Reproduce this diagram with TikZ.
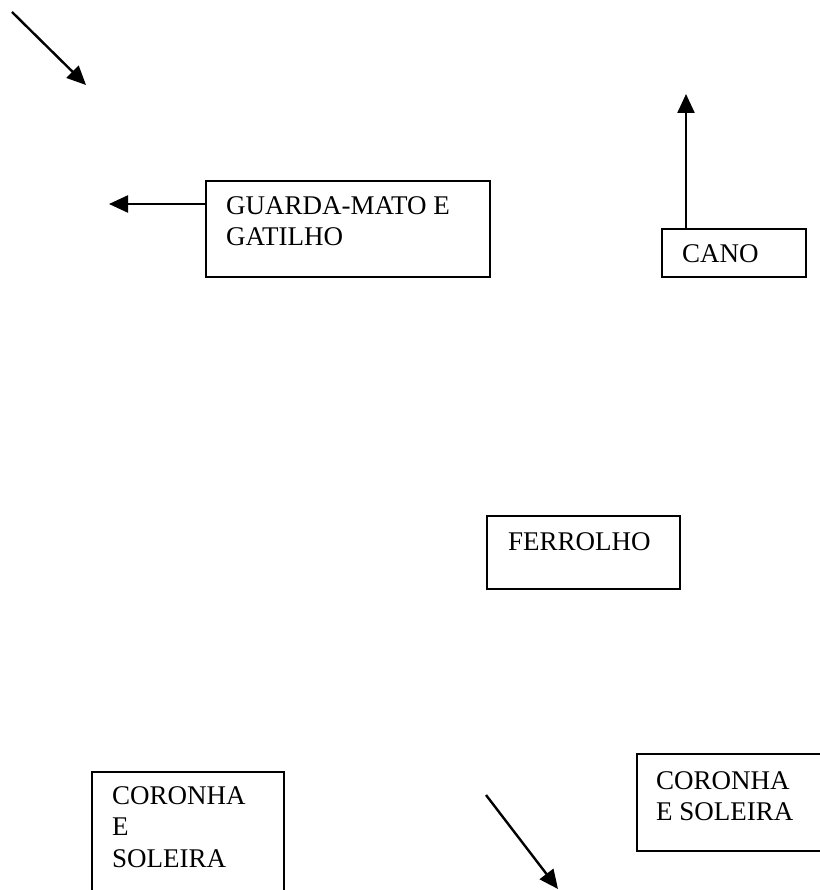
\documentclass[tikz,border=0pt]{standalone}
\usepackage{fontspec}
\setmainfont{Liberation Serif}
\usetikzlibrary{arrows.meta}
\begin{document}
\begin{tikzpicture}[x=1pt,y=-1pt,
  box/.style={draw,line width=2pt,anchor=north west,inner sep=0,minimum width=#1},
  lbl/.style={anchor=north west,inner sep=0,align=left,font=\fontsize{27}{31.5}\selectfont},
  arr/.style={line width=2.4pt,-{Triangle[length=19pt,width=17pt]}}]
\useasboundingbox (0,0) rectangle (819,890);
% boxes
\node[box=284pt,minimum height=96pt] (guard) at (205,180) {};
\node[box=144pt,minimum height=48pt] (cano) at (661,228) {};
\node[box=193pt,minimum height=73pt] (ferr) at (486,515) {};
\node[box=192pt,minimum height=140pt] (cor1) at (91,771) {};
\node[box=200pt,minimum height=97pt] (cor2) at (636,753) {};
% labels
\node[lbl] (tguard) at (226,196) {GUARDA-MATO E\\GATILHO};
\node[lbl] (tcano) at (682,244) {CANO};
\node[lbl] (tferr) at (508,532) {FERROLHO};
\node[lbl] (tcor1) at (112,786) {CORONHA\\E\\SOLEIRA};
\node[lbl] (tcor2) at (656,771) {CORONHA\\E SOLEIRA};
% arrows
\coordinate (a1s) at (12,12);
\coordinate (a1e) at (86,85);
\draw[arr] (a1s) -- (a1e);
\coordinate (gtip) at (109,204);
\draw[arr] (guard.north west) ++(0,24) -- (gtip);
\coordinate (ctip) at (686,94);
\draw[arr] (cano.north west) ++(25,0) -- (ctip);
\coordinate (a3s) at (486,795);
\coordinate (a3e) at (558,889);
\draw[arr] (a3s) -- (a3e);
\end{tikzpicture}
\end{document}
